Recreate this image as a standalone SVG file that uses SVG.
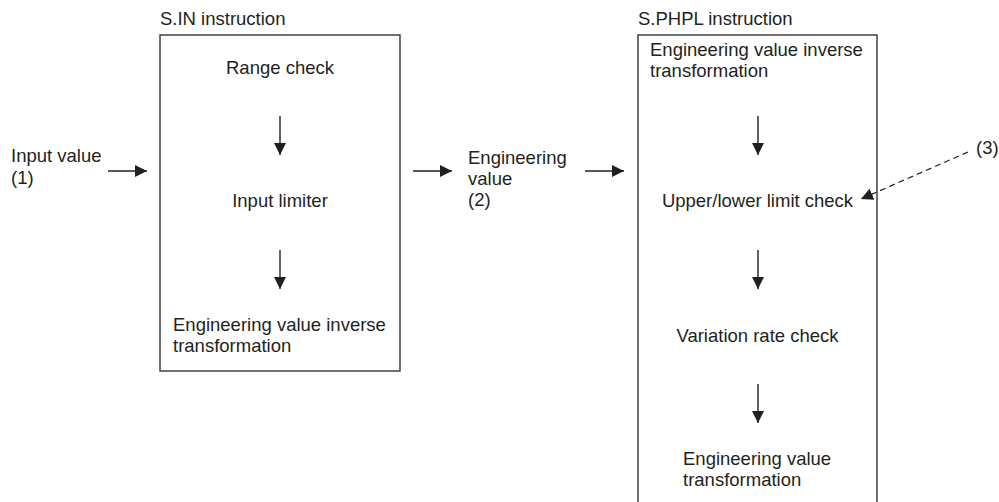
<svg xmlns="http://www.w3.org/2000/svg" width="999" height="502" viewBox="0 0 999 502">
<style>
text{font-family:"Liberation Sans",Arial,sans-serif;font-size:18.5px;fill:#231f20}
.box{fill:none;stroke:#333;stroke-width:1.4}
.ln{stroke:#231f20;stroke-width:1.4;fill:none}
.dash{stroke:#231f20;stroke-width:1.2;fill:none;stroke-dasharray:6 4}
.c{text-anchor:middle}
</style>
<defs>
<marker id="ah" markerWidth="12" markerHeight="12" viewBox="0 0 12 12" refX="12" refY="6" orient="auto" markerUnits="userSpaceOnUse">
<path d="M0,0 L12,6 L0,12 Z" fill="#231f20"/>
</marker>
</defs>
<g id="input">
<text x="11" y="162">Input value</text>
<text x="11" y="184">(1)</text>
</g>
<g id="sin">
<text x="160" y="25">S.IN instruction</text>
<rect class="box" x="160" y="35" width="240" height="336"/>
<text class="c" x="280" y="74">Range check</text>
<text class="c" x="280" y="207">Input limiter</text>
<text x="173" y="331">Engineering value inverse</text>
<text x="173" y="352">transformation</text>
</g>
<g id="engval">
<text x="468" y="164">Engineering</text>
<text x="468" y="185">value</text>
<text x="468" y="206">(2)</text>
</g>
<g id="sphpl">
<text x="638" y="25">S.PHPL instruction</text>
<rect class="box" x="638" y="35" width="239" height="480"/>
<text x="650" y="56">Engineering value inverse</text>
<text x="650" y="77">transformation</text>
<text class="c" x="757.5" y="207">Upper/lower limit check</text>
<text class="c" x="757.5" y="342">Variation rate check</text>
<text x="683" y="465">Engineering value</text>
<text x="683" y="486">transformation</text>
</g>
<g id="label3">
<text x="976" y="154">(3)</text>
</g>
<g id="connectors">
<line class="ln" x1="108" y1="171" x2="147" y2="171" marker-end="url(#ah)"/>
<line class="ln" x1="413" y1="171" x2="452" y2="171" marker-end="url(#ah)"/>
<line class="ln" x1="585" y1="171" x2="624" y2="171" marker-end="url(#ah)"/>
<line class="ln" x1="280" y1="116" x2="280" y2="155" marker-end="url(#ah)"/>
<line class="ln" x1="280" y1="250" x2="280" y2="289" marker-end="url(#ah)"/>
<line class="ln" x1="758" y1="116" x2="758" y2="155" marker-end="url(#ah)"/>
<line class="ln" x1="758" y1="250" x2="758" y2="289" marker-end="url(#ah)"/>
<line class="ln" x1="758" y1="384" x2="758" y2="423" marker-end="url(#ah)"/>
<line class="dash" x1="968" y1="152" x2="861" y2="199" marker-end="url(#ah)"/>
</g>
</svg>
